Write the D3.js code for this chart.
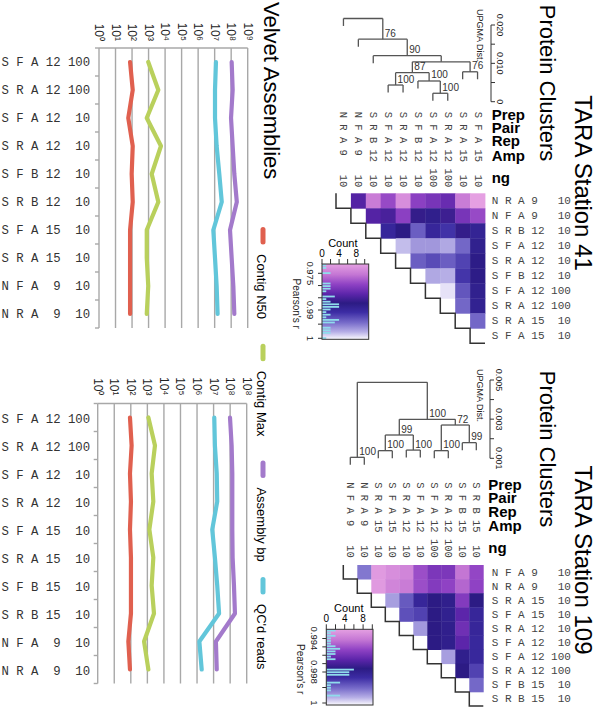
<!DOCTYPE html>
<html>
<head>
<meta charset="utf-8">
<script src="https://cdn.jsdelivr.net/npm/d3@7/dist/d3.min.js"></script>
<style>
html,body{margin:0;padding:0;background:#fff;}
svg{display:block;}
</style>
</head>
<body>
<svg id="chart" width="600" height="708"></svg>
<script>
// ---------------- DATA ----------------
// Velvet assemblies (rows top to bottom)
const velvetRows41 = [["S","F","A","12","100"],["S","R","A","12","100"],["S","F","A","12","10"],["S","R","A","12","10"],["S","F","B","12","10"],["S","R","B","12","10"],["S","F","A","15","10"],["S","R","A","15","10"],["N","F","A","9","10"],["N","R","A","9","10"]];
const contigN50_41 = [76,110,59,110,95,110,76,76,76,76];
const contigMax_41 = [955,3890,776,5620,1550,3890,776,776,955,776];
const assemblyBp_41 = [1.07e8,1.23e8,9.8e7,1.23e8,1.55e8,2.19e8,8.5e7,1.07e8,1.35e8,1.55e8];
const qcReads_41 = [1.20e7,1.05e7,1.05e7,1.32e7,1.91e7,2.69e7,8.3e6,1.05e7,1.32e7,1.51e7];

const velvetRows109 = [["S","F","A","12","100"],["S","R","A","12","100"],["S","F","A","12","10"],["S","R","A","12","10"],["S","F","A","15","10"],["S","R","A","15","10"],["S","F","B","15","10"],["S","R","B","15","10"],["N","F","A","9","10"],["N","R","A","9","10"]];
const contigN50_109 = [89,112,89,102,89,102,102,102,71,89];
const contigMax_109 = [1150,2880,1820,2290,1320,2290,1820,2510,631,1150];
const assemblyBp_109 = [9.8e7,1.23e8,1.35e8,1.35e8,1.35e8,1.41e8,1.70e8,1.95e8,1.38e7,1.55e7];
const qcReads_109 = [1.10e7,1.20e7,1.55e7,1.66e7,8.3e6,1.20e7,1.66e7,2.14e7,1.38e6,1.91e6];

const seriesNames = ["Contig N50","Contig Max","Assembly bp","QC'd reads"];
const seriesColors = ["#e0604f","#b9d05c","#a37acb","#62c6da"];
const decadeLabels41 = ["10⁰","10¹","10²","10³","10⁴","10⁵","10⁶","10⁷","10⁸","10⁹"];
const decadeLabels109 = ["10⁰","10¹","10²","10³","10⁴","10⁵","10⁶","10⁷","10⁸","10⁸"];

// Protein clusters: sample order
const heatSamples41 = [["N","R","A","9","10"],["N","F","A","9","10"],["S","R","B","12","10"],["S","F","A","12","10"],["S","R","A","12","10"],["S","F","B","12","10"],["S","F","A","12","100"],["S","R","A","12","100"],["S","R","A","15","10"],["S","F","A","15","10"]];
const heatSamples109 = [["N","F","A","9","10"],["N","R","A","9","10"],["S","R","A","15","10"],["S","F","A","15","10"],["S","R","A","12","10"],["S","F","A","12","10"],["S","F","A","12","100"],["S","R","A","12","100"],["S","F","B","15","10"],["S","R","B","15","10"]];

// Pearson's r, row i holds r(i, j) for j > i
const pearson41 = [
  [0.9841,0.9749,0.9789,0.9730,0.9798,0.9813,0.9826,0.9749,0.9712],
  [0.9841,0.9850,0.9798,0.9866,0.9881,0.9859,0.9813,0.9789],
  [0.9897,0.9872,0.9937,0.9897,0.9911,0.9866,0.9891],
  [0.9982,0.9966,0.9966,0.9974,0.9942,0.9884],
  [0.9937,0.9926,0.9937,0.9921,0.9875],
  [0.9974,0.9977,0.9913,0.9875],
  [0.9995,0.9932,0.9884],
  [0.9942,0.9887],
  [0.9942]
];
const pearson109 = [
  [0.99915,0.99308,0.99344,0.99371,0.99507,0.99579,0.99579,0.99417,0.99525],
  [0.99308,0.99371,0.99399,0.99507,0.99561,0.99534,0.99453,0.99534],
  [0.99950,0.99886,0.99817,0.99761,0.99788,0.99561,0.99761],
  [0.99876,0.99861,0.99761,0.99796,0.99652,0.99817],
  [0.99945,0.99761,0.99788,0.99607,0.99817],
  [0.99761,0.99788,0.99652,0.99823],
  [0.99950,0.99788,0.99823],
  [0.99761,0.99861],
  [0.99901]
];

// UPGMA trees: merges (number = leaf, "mK" = earlier merge), heights, bootstrap support
const merges41 = [[6,7],[3,4],[5,"m0"],[8,9],["m1","m2"],["m4","m3"],[2,"m5"],[1,"m6"],[0,"m7"]];
const heights41 = [0.0022,0.00435,0.0054,0.0078,0.00756,0.0104,0.0120,0.0163,0.0217];
const support41 = [100,100,100,76,87,null,90,76,null];
const merges109 = [[0,1],[2,3],[4,5],[6,7],[8,9],["m1","m2"],["m3","m4"],["m5","m6"],["m0","m7"]];
const heights109 = [0.00105,0.00139,0.00142,0.00139,0.0018,0.00219,0.0027,0.00299,0.00488];
const support109 = [100,100,100,100,99,99,72,100,null];

const distTicks41 = [0,0.005,0.01,0.015,0.02];
const distTickLabels41 = ["0","","0.010","","0.020"];
const distTicks109 = [0.001,0.002,0.003,0.004,0.005];
const distTickLabels109 = ["0.001","","0.003","","0.005"];

const rTicks41 = [0.975,0.98,0.985,0.99,0.995,1];
const rTickLabels41 = ["0.975","","","0.99","","1"];
const rTicks109 = [0.994,0.995,0.996,0.997,0.998,0.999,1];
const rTickLabels109 = ["0.994","","","","0.998","","1"];
const countTicks = [0,2,4,6,8,10];
const countTickLabels = ["0","","4","","8",""];
const headerNames = ["Prep","Pair","Rep","Amp","ng"];

// colour ramp (fraction down the legend bar -> colour)
const stopT = [0,0.14,0.27,0.40,0.52,0.64,0.78,0.9,1];
const stopC = ["#e5a0e2","#c476d4","#8f42c4","#5c25aa","#2c1b84","#3c2ca4","#786cca","#b6aee6","#fcfbff"];

// ---------------- DRAWING ----------------
const SANS = "'Liberation Sans', Arial, Helvetica, sans-serif";
const MONO = "'Liberation Mono', 'Courier New', monospace";
const svg = d3.select("#chart");
const gradColor = d3.scaleLinear().domain(stopT).range(stopC).clamp(true);

function rot(g, x, y, str, size, o = {}) {
  const t = g.append("text")
    .attr("transform", `translate(${x},${y}) rotate(90)`)
    .attr("font-family", o.mono ? MONO : SANS)
    .attr("font-size", size)
    .attr("fill", o.fill || "#000")
    .text(str);
  if (o.anchor) t.attr("text-anchor", o.anchor);
  if (o.base) t.attr("dominant-baseline", o.base);
  if (o.weight) t.attr("font-weight", o.weight);
  if (o.mono) t.style("white-space", "pre");
  return t;
}

const velvetLabel = s => `${s[0]} ${s[1]} ${s[2]} ${s[3].padStart(2)} ${s[4].padStart(3)}`;
const heatLabel = s => `${s[0]} ${s[1]} ${s[2]} ${s[3].padEnd(2)} ${s[4].padStart(3)}`;

function drawVelvet(cfg) {
  const g = svg.append("g");
  const x = d3.scaleLog().domain([1, 1e9]).range([cfg.x0, cfg.x1]);
  const y = d3.scaleBand().domain(d3.range(cfg.rows.length)).range([cfg.top, cfg.bottom]);
  const decades = d3.range(0, 10).map(k => Math.pow(10, k));
  g.selectAll("line.grid").data(decades).join("line")
    .attr("x1", d => x(d)).attr("x2", d => x(d))
    .attr("y1", cfg.top).attr("y2", cfg.bottom)
    .attr("stroke", "#a8a8a8").attr("stroke-width", 1.4);
  g.append("line").attr("x1", cfg.x0).attr("x2", cfg.x1).attr("y1", cfg.top).attr("y2", cfg.top)
    .attr("stroke", "#a8a8a8").attr("stroke-width", 1.4);
  const bounds = d3.range(cfg.rows.length + 1).map(i => cfg.top + i * y.step());
  g.selectAll("line.tk").data(bounds).join("line")
    .attr("x1", cfg.x0 - 4).attr("x2", cfg.x0).attr("y1", d => d).attr("y2", d => d)
    .attr("stroke", "#a8a8a8").attr("stroke-width", 1.4);
  decades.forEach((d, k) => rot(g, x(d), cfg.labelEnd, cfg.tickLabels[k], 12,
    { anchor: "end", base: "central", fill: "#222" }));
  cfg.rows.forEach((s, i) => {
    g.append("text").attr("x", 1.5).attr("y", y(i) + y.bandwidth() / 2 + cfg.labelDy)
      .attr("dominant-baseline", "central").attr("font-family", MONO).attr("font-size", 12.3)
      .attr("fill", "#333").style("white-space", "pre").text(velvetLabel(s));
  });
  cfg.vals.forEach((vals, s) => {
    g.append("path").datum(vals)
      .attr("d", d3.line().x(v => x(v)).y((v, i) => y(i) + y.bandwidth() / 2))
      .attr("fill", "none").attr("stroke", seriesColors[s]).attr("stroke-width", 4.2)
      .attr("stroke-linejoin", "round").attr("stroke-linecap", "round");
  });
}

function buildTree(merges, heights, supports) {
  const nodes = merges.map(() => ({}));
  const ref = v => typeof v === "number" ? { leaf: true, x: v } : nodes[+v.slice(1)];
  merges.forEach((m, k) => {
    const a = ref(m[0]), b = ref(m[1]);
    Object.assign(nodes[k], { children: [a, b], h: heights[k], s: supports[k], x: (a.x + b.x) / 2 });
  });
  return nodes;
}

function drawCluster(cfg, id) {
  const g = svg.append("g");
  const n = cfg.samples.length;
  const xb = d3.scaleBand().domain(d3.range(n)).range([cfg.X0, cfg.X0 + n * cfg.w]);
  const yb = d3.scaleBand().domain(d3.range(n)).range([cfg.Y0, cfg.Y0 + n * cfg.h]);
  const L = cfg.legend;
  const rPos = d3.scaleLinear().domain(L.rDom).range(L.rRange);
  const tOf = r => (rPos(r) - L.top) / (L.bottom - L.top);
  const color = r => gradColor(tOf(r));

  // cells
  const cells = [];
  cfg.pearson.forEach((row, i) => row.forEach((r, k) => cells.push({ i, j: i + 1 + k, r })));
  g.selectAll("rect.cell").data(cells).join("rect")
    .attr("x", d => xb(d.j)).attr("y", d => yb(d.i))
    .attr("width", xb.bandwidth() + 0.4).attr("height", yb.bandwidth() + 0.4)
    .attr("fill", d => color(d.r));
  // staircase
  let p = `M${cfg.X0},${cfg.Y0}`;
  for (let i = 0; i < n; i++) p += `V${cfg.Y0 + (i + 1) * cfg.h}H${cfg.X0 + (i + 1) * cfg.w}`;
  g.append("path").attr("d", p).attr("fill", "none").attr("stroke", "#333").attr("stroke-width", 1.5);

  // row labels
  cfg.samples.forEach((s, i) => {
    g.append("text").attr("x", cfg.rowLabelX).attr("y", yb(i) + cfg.h / 2 + 0.5)
      .attr("dominant-baseline", "central").attr("font-family", MONO).attr("font-size", 11)
      .attr("fill", "#444").style("white-space", "pre").text(heatLabel(s));
    rot(g, xb(i) + cfg.w / 2, cfg.colY0, heatLabel(s), 10.5,
      { mono: true, base: "central", anchor: "start", fill: "#444" });
  });
  headerNames.forEach((h, k) => {
    g.append("text").attr("x", cfg.headerX).attr("y", cfg.headerY[k])
      .attr("font-family", SANS).attr("font-weight", "bold").attr("font-size", 15).text(h);
  });

  // dendrogram
  const nodes = buildTree(cfg.merges, cfg.heights, cfg.support);
  const D = cfg.dist;
  const dy = d3.scaleLinear().domain(D.domain).range(D.range);
  const hs = cfg.heights;
  const hang = 0.1 * (d3.max(hs) - d3.min(hs));
  const px = v => cfg.X0 + (v + 0.5) * cfg.w;
  const tree = g.append("g").attr("stroke", "#555").attr("stroke-width", 1.3).attr("fill", "none");
  nodes.forEach(nd => {
    const [a, b] = nd.children;
    tree.append("line").attr("x1", px(a.x)).attr("x2", px(b.x)).attr("y1", dy(nd.h)).attr("y2", dy(nd.h));
    [a, b].forEach(c => {
      const yEnd = c.leaf ? dy(nd.h - hang) : dy(c.h);
      tree.append("line").attr("x1", px(c.x)).attr("x2", px(c.x)).attr("y1", dy(nd.h)).attr("y2", yEnd);
    });
    if (nd.s != null) {
      g.append("text").attr("x", px(nd.x) + 2).attr("y", dy(nd.h) - 2.5)
        .attr("font-family", SANS).attr("font-size", 10).attr("fill", "#333").text(nd.s);
    }
  });
  // distance axis
  g.append("line").attr("x1", D.axisX).attr("x2", D.axisX)
    .attr("y1", dy(d3.min(D.ticks))).attr("y2", dy(d3.max(D.ticks)))
    .attr("stroke", "#333").attr("stroke-width", 1);
  D.ticks.forEach((t, k) => {
    g.append("line").attr("x1", D.axisX).attr("x2", D.axisX + 4).attr("y1", dy(t)).attr("y2", dy(t))
      .attr("stroke", "#333").attr("stroke-width", 1);
    if (D.labels[k]) rot(g, D.axisX + 6, dy(t), D.labels[k], 9, { anchor: "middle", fill: "#222" });
  });
  rot(g, D.titleX, D.titleY, "UPGMA Dist.", 9, { anchor: "start", fill: "#222" });

  // colour legend with histogram
  const grad = svg.append("defs").append("linearGradient").attr("id", id)
    .attr("x1", 0).attr("y1", 0).attr("x2", 0).attr("y2", 1);
  stopT.forEach((t, k) => grad.append("stop").attr("offset", t).attr("stop-color", stopC[k]));
  g.append("rect").attr("x", L.left).attr("y", L.top).attr("width", L.right - L.left)
    .attr("height", L.bottom - L.top).attr("fill", `url(#${id})`);
  const cnt = d3.scaleLinear().domain([0, 10]).range([L.left, L.cnt10]);
  const pos = cells.map(c => rPos(c.r));
  const bins = d3.bin().domain([L.top, L.bottom]).thresholds(d3.range(L.top, L.bottom, L.binPx))(pos);
  g.selectAll("rect.bar").data(bins.filter(b => b.length)).join("rect")
    .attr("x", L.left).attr("y", b => b.x0 + 0.4)
    .attr("width", b => cnt(b.length) - L.left).attr("height", b => Math.max(0.8, b.x1 - b.x0 - 0.8))
    .attr("fill", "#8fdcec");
  g.append("rect").attr("x", L.left).attr("y", L.top).attr("width", L.right - L.left)
    .attr("height", L.bottom - L.top).attr("fill", "none").attr("stroke", "#333").attr("stroke-width", 1);
  countTicks.forEach((c, k) => {
    g.append("line").attr("x1", cnt(c)).attr("x2", cnt(c)).attr("y1", L.top - 5).attr("y2", L.top)
      .attr("stroke", "#333").attr("stroke-width", 1);
    if (countTickLabels[k]) g.append("text").attr("x", cnt(c)).attr("y", L.top - 7.5)
      .attr("text-anchor", "middle").attr("font-family", SANS).attr("font-size", 10).text(countTickLabels[k]);
  });
  g.append("text").attr("x", cnt(5) - 0.5).attr("y", L.top - 17.5).attr("text-anchor", "middle")
    .attr("font-family", SANS).attr("font-size", 11).text("Count");
  L.rTicks.forEach((r, k) => {
    g.append("line").attr("x1", L.left - 4).attr("x2", L.left).attr("y1", rPos(r)).attr("y2", rPos(r))
      .attr("stroke", "#333").attr("stroke-width", 1);
    if (L.rLabels[k]) rot(g, L.left - 15, rPos(r), L.rLabels[k], 9.5, { anchor: "middle", fill: "#222" });
  });
  rot(g, L.left - 29, (L.top + L.bottom) / 2 + 2, "Pearson's r", 10, { anchor: "middle", fill: "#222" });
}

// ---- Velvet charts
drawVelvet({ rows: velvetRows41, vals: [contigN50_41, contigMax_41, assemblyBp_41, qcReads_41],
  x0: 99, x1: 247.7, top: 48, bottom: 328, labelEnd: 41, tickLabels: decadeLabels41, labelDy: 1 });
drawVelvet({ rows: velvetRows109, vals: [contigN50_109, contigMax_109, assemblyBp_109, qcReads_109],
  x0: 97.7, x1: 246.7, top: 403.5, bottom: 683.5, labelEnd: 395.5, tickLabels: decadeLabels109, labelDy: 2 });

// ---- Protein clusters
drawCluster({ samples: heatSamples41, pearson: pearson41, X0: 336, w: 14.9, Y0: 193.3, h: 15,
  colY0: 111.7, rowLabelX: 491.7, headerX: 491.7, headerY: [120, 132.5, 146, 160.5, 182.5],
  merges: merges41, heights: heights41, support: support41,
  dist: { domain: [0, 0.02], range: [101.7, 25], ticks: distTicks41, labels: distTickLabels41, axisX: 491, titleX: 477, titleY: 9 },
  legend: { left: 322, right: 368.7, top: 264, bottom: 339.3, cnt10: 364.7, binPx: 2.6,
    rDom: [0.975, 0.99, 1], rRange: [273.3, 310, 338.3], rTicks: rTicks41, rLabels: rTickLabels41 } }, "g41");
drawCluster({ samples: heatSamples109, pearson: pearson109, X0: 343.3, w: 14.0, Y0: 565, h: 14.1,
  colY0: 482.2, rowLabelX: 491.7, headerX: 488.3, headerY: [490, 502.5, 517, 531, 553],
  merges: merges109, heights: heights109, support: support109,
  dist: { domain: [0.001, 0.005], range: [458.3, 380], ticks: distTicks109, labels: distTickLabels109, axisX: 490, titleX: 477, titleY: 369 },
  legend: { left: 326.3, right: 373, top: 629.3, bottom: 705, cnt10: 372.3, binPx: 2.6,
    rDom: [0.994, 0.998, 1], rRange: [638.5, 672, 703], rTicks: rTicks109, rLabels: rTickLabels109 } }, "g109");

// ---- Titles
rot(svg, 575, 183, "TARA Station 41", 24, { anchor: "middle" });
rot(svg, 575, 560, "TARA Station 109", 24, { anchor: "middle" });
rot(svg, 540, 83, "Protein Clusters", 22, { anchor: "middle" });
rot(svg, 540, 449, "Protein Clusters", 22, { anchor: "middle" });
rot(svg, 264, 2, "Velvet Assemblies", 22, { anchor: "start" });

// ---- Series legend
seriesNames.forEach((name, k) => {
  const y0 = 227 + 116.7 * k;
  svg.append("line").attr("x1", 263).attr("x2", 263).attr("y1", y0 + 2.5).attr("y2", y0 + 15)
    .attr("stroke", seriesColors[k]).attr("stroke-width", 5).attr("stroke-linecap", "round");
  rot(svg, 256.5, y0 + 27, name, 13, { anchor: "start" });
});
</script>
</body>
</html>
